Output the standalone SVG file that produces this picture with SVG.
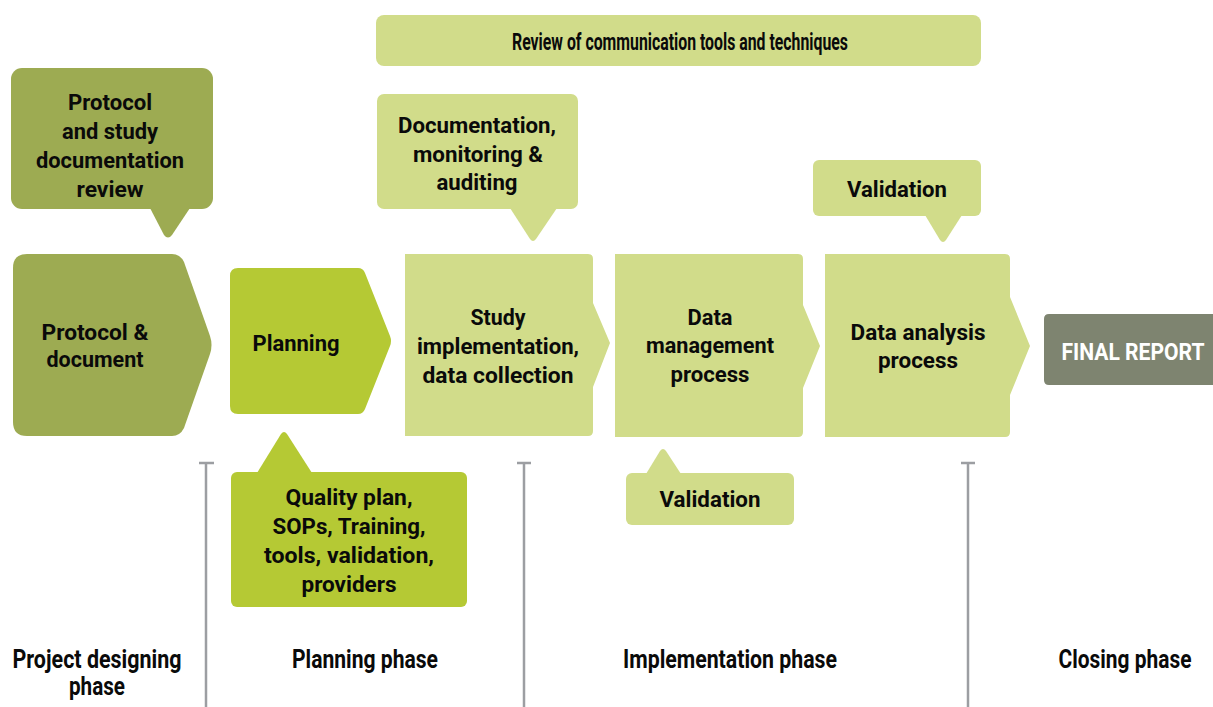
<svg xmlns="http://www.w3.org/2000/svg" width="1213" height="707" viewBox="0 0 1213 707">
<style>
  text { font-family: Roboto, "Liberation Sans", sans-serif; font-weight: bold; font-size: 22px; fill: #0a0a0a; text-anchor: middle; }
  .dark { fill: #9dab52; }
  .bright { fill: #b5c934; }
  .light { fill: #d1dc8a; }
  .final { fill: #7e8470; }
  .phase { font-size: 25px; }
  .banner { font-size: 23px; }
  .white { fill: #ffffff; font-size: 23px; }
  .div { stroke: #9c9ea2; stroke-width: 2.5; fill: none; }
</style>
<rect width="1213" height="707" fill="#ffffff"/>

<g id="review-banner">
  <rect class="light" x="376" y="15" width="605" height="51" rx="8"/>
  <text class="banner" x="680" y="50" textLength="336" lengthAdjust="spacingAndGlyphs">Review of communication tools and techniques</text>
</g>

<g id="protocol-review">
  <rect class="dark" x="11" y="68" width="202" height="141" rx="11"/>
  <path class="dark" d="M 150,208 L 190,208 L 172,235 Q 168,240 164,235 Z"/>
  <text x="110" y="110" textLength="84" lengthAdjust="spacingAndGlyphs">Protocol</text>
  <text x="110" y="139" textLength="96" lengthAdjust="spacingAndGlyphs">and study</text>
  <text x="110" y="168" textLength="148" lengthAdjust="spacingAndGlyphs">documentation</text>
  <text x="110" y="197" textLength="67" lengthAdjust="spacingAndGlyphs">review</text>
</g>

<g id="protocol-document">
  <path class="dark" d="M 27,254 L 172,254 Q 180,254 184,262 L 210,336 Q 213,345 210,354 L 184,428 Q 180,436 172,436 L 27,436 Q 13,436 13,422 L 13,268 Q 13,254 27,254 Z"/>
  <text x="95" y="340" textLength="107" lengthAdjust="spacingAndGlyphs">Protocol &amp;</text>
  <text x="95" y="367" textLength="97" lengthAdjust="spacingAndGlyphs">document</text>
</g>

<g id="planning">
  <path class="bright" d="M 238,268 L 358,268 Q 363,268 365,273 L 390,336 Q 392,341 390,346 L 365,409 Q 363,414 358,414 L 238,414 Q 230,414 230,406 L 230,276 Q 230,268 238,268 Z"/>
  <text x="296" y="351" textLength="87" lengthAdjust="spacingAndGlyphs">Planning</text>
</g>

<g id="quality-plan">
  <rect class="bright" x="231" y="472" width="236" height="135" rx="6"/>
  <path class="bright" d="M 257,473 L 312,473 L 287,434 Q 284,430 281,434 Z"/>
  <text x="349" y="505" textLength="127" lengthAdjust="spacingAndGlyphs">Quality plan,</text>
  <text x="349" y="534" textLength="153" lengthAdjust="spacingAndGlyphs">SOPs, Training,</text>
  <text x="349" y="563" textLength="170" lengthAdjust="spacingAndGlyphs">tools, validation,</text>
  <text x="349" y="592" textLength="95" lengthAdjust="spacingAndGlyphs">providers</text>
</g>

<g id="documentation">
  <rect class="light" x="377" y="94" width="201" height="115" rx="7"/>
  <path class="light" d="M 510,208 L 557,208 L 536,239 Q 533,243 530,239 Z"/>
  <text x="477" y="133" textLength="158" lengthAdjust="spacingAndGlyphs">Documentation,</text>
  <text x="478" y="162" textLength="130" lengthAdjust="spacingAndGlyphs">monitoring &amp;</text>
  <text x="477" y="190" textLength="81" lengthAdjust="spacingAndGlyphs">auditing</text>
</g>

<g id="study-implementation">
  <path class="light" d="M 405,254 L 588,254 Q 593,254 593,259 L 593,303 L 610,343 L 593,387 L 593,431 Q 593,436 588,436 L 405,436 Z"/>
  <text x="498" y="325" textLength="55" lengthAdjust="spacingAndGlyphs">Study</text>
  <text x="498" y="354" textLength="162" lengthAdjust="spacingAndGlyphs">implementation,</text>
  <text x="498" y="383" textLength="151" lengthAdjust="spacingAndGlyphs">data collection</text>
</g>

<g id="data-management">
  <path class="light" d="M 615,254 L 798,254 Q 803,254 803,259 L 803,305 L 820,346 L 803,388 L 803,432 Q 803,437 798,437 L 615,437 Z"/>
  <text x="710" y="325" textLength="45" lengthAdjust="spacingAndGlyphs">Data</text>
  <text x="710" y="353" textLength="128" lengthAdjust="spacingAndGlyphs">management</text>
  <text x="710" y="382" textLength="79" lengthAdjust="spacingAndGlyphs">process</text>
</g>

<g id="validation-bottom">
  <rect class="light" x="626" y="473" width="168" height="52" rx="6"/>
  <path class="light" d="M 646,474 L 681,474 L 666,451 Q 663,447 660,451 Z"/>
  <text x="710" y="507" textLength="101" lengthAdjust="spacingAndGlyphs">Validation</text>
</g>

<g id="validation-top">
  <rect class="light" x="813" y="160" width="168" height="56" rx="6"/>
  <path class="light" d="M 925,215 L 962,215 L 946,240 Q 943,244 940,240 Z"/>
  <text x="897" y="197" textLength="100" lengthAdjust="spacingAndGlyphs">Validation</text>
</g>

<g id="data-analysis">
  <path class="light" d="M 825,254 L 1005,254 Q 1010,254 1010,259 L 1010,297 L 1030,346 L 1010,395 L 1010,432 Q 1010,437 1005,437 L 825,437 Z"/>
  <text x="918" y="340" textLength="135" lengthAdjust="spacingAndGlyphs">Data analysis</text>
  <text x="918" y="368" textLength="80" lengthAdjust="spacingAndGlyphs">process</text>
</g>

<g id="final-report">
  <path class="final" d="M 1049,314 L 1213,314 L 1213,385 L 1049,385 Q 1044,385 1044,380 L 1044,319 Q 1044,314 1049,314 Z"/>
  <text class="white" x="1133" y="360" textLength="143" lengthAdjust="spacingAndGlyphs">FINAL REPORT</text>
</g>

<g id="connectors">
  <path class="div" d="M 206,463 V 707 M 199,463 H 214"/>
  <path class="div" d="M 524,463 V 707 M 517,463 H 531"/>
  <path class="div" d="M 968,463 V 707 M 961,463 H 975"/>
</g>

<g id="phase-labels">
  <text class="phase" x="97" y="668" textLength="169" lengthAdjust="spacingAndGlyphs">Project designing</text>
  <text class="phase" x="97" y="695" textLength="56" lengthAdjust="spacingAndGlyphs">phase</text>
  <text class="phase" x="365" y="668" textLength="146" lengthAdjust="spacingAndGlyphs">Planning phase</text>
  <text class="phase" x="730" y="668" textLength="214" lengthAdjust="spacingAndGlyphs">Implementation phase</text>
  <text class="phase" x="1125" y="668" textLength="133" lengthAdjust="spacingAndGlyphs">Closing phase</text>
</g>
</svg>
